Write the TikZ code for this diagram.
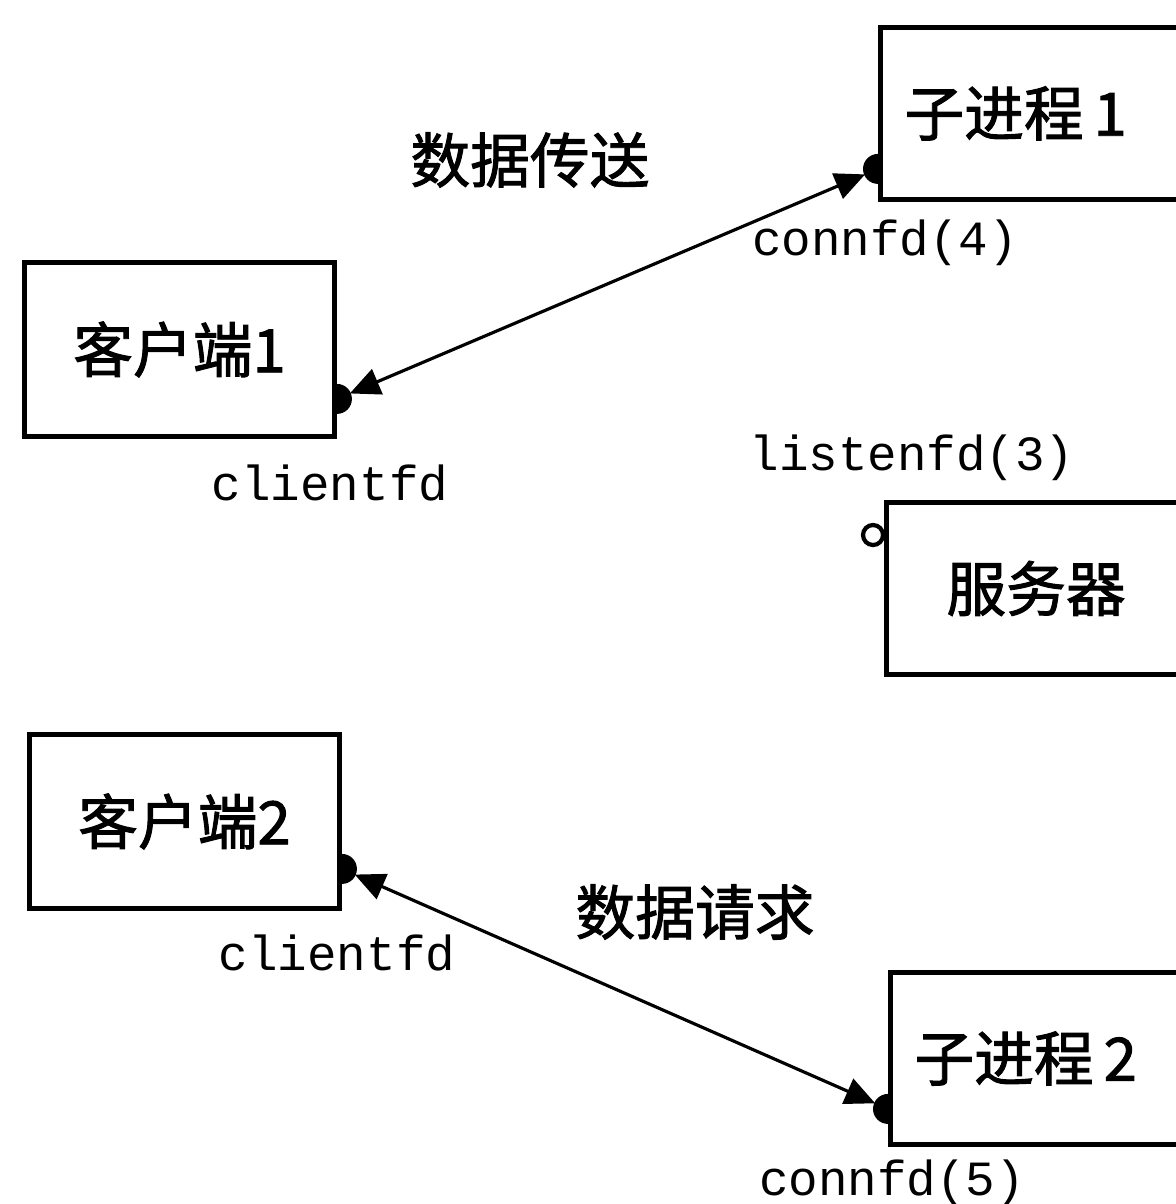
\documentclass[tikz,border=0pt]{standalone}
\usepackage{fontspec}
\setmonofont{Liberation Mono}
\newfontfamily\cjk[FakeBold=1.6]{Noto Sans CJK SC}
\usetikzlibrary{arrows.meta}

\begin{document}
\begin{tikzpicture}[
      every node/.style={font=\cjk\fontsize{17}{19}\selectfont},
      lbox/.style={draw, line width=1.4pt, minimum width=3.1cm,
        minimum height=1.74cm, anchor=north west, inner sep=0pt},
      rbox/.style={draw, line width=1.4pt, minimum height=1.72cm,
        text width=3.3cm, inner xsep=0.24cm, align=left, anchor=north west},
      fdlabel/.style={font=\ttfamily\fontsize{14}{16}\selectfont},
      link/.style={{Triangle[length=0.3cm,width=0.27cm]}-{Triangle[length=0.3cm,width=0.27cm]},
        line width=0.9pt, shorten <=0.14cm, shorten >=0.14cm}]
    \useasboundingbox (0,0) rectangle (11.76,-12.04);
    \clip (0,0) rectangle (11.76,-12.04);

    % boxes
    \node[lbox] (cli1) at (0.22,-2.60) {客户端1};
    \node[lbox] (cli2) at (0.27,-7.32) {客户端2};
    \node[rbox] (child1) at (8.78,-0.25) {子进程\,1};
    \node[rbox, inner xsep=0.6cm] (srv) at (8.84,-5.00) {服务器};
    \node[rbox] (child2) at (8.88,-9.70) {子进程\,2};

    % socket ends
    \coordinate (c1) at ([yshift=0.40cm]cli1.south east);
    \coordinate (p1) at ([yshift=0.33cm]child1.south west);
    \coordinate (c2) at ([yshift=0.42cm]cli2.south east);
    \coordinate (p2) at ([yshift=0.38cm]child2.south west);
    \fill (c1) ++(0,0.15) arc[start angle=90, end angle=-90, radius=0.15cm] -- cycle;
    \fill (c2) ++(0,0.15) arc[start angle=90, end angle=-90, radius=0.15cm] -- cycle;
    \fill (p1) ++(0,0.15) arc[start angle=90, end angle=270, radius=0.15cm] -- cycle;
    \fill (p2) ++(0,0.15) arc[start angle=90, end angle=270, radius=0.15cm] -- cycle;
    \draw[line width=1.2pt, fill=white] ([xshift=-0.11cm, yshift=-0.35cm]srv.north west) circle (0.1cm);

    % data links
    \draw[link] (c1) -- (p1);
    \draw[link] (c2) -- (p2);

    \node (send) at (5.30,-1.60) {数据传送};
    \node (req) at (6.95,-9.12) {数据请求};
    \node[fdlabel] (fd4) at (8.85,-2.43) {connfd(4)};
    \node[fdlabel] (fdc1) at (3.30,-4.83) {clientfd};
    \node[fdlabel] (fd3) at (9.12,-4.58) {listenfd(3)};
    \node[fdlabel] (fdc2) at (3.37,-9.53) {clientfd};
    \node[fdlabel] (fd5) at (8.92,-11.83) {connfd(5)};
  \end{tikzpicture}
\end{document}
